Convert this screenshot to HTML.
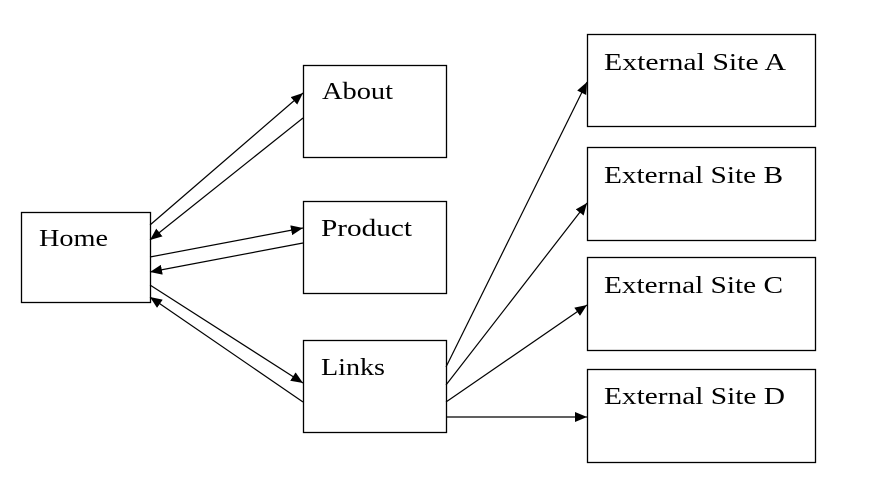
<!DOCTYPE html>
<html><head><style>
html,body{margin:0;padding:0;background:#fff;}
svg{display:block;}
text{font-family:"Liberation Serif",serif;font-size:24px;fill:#000;}
</style></head><body>
<svg width="870" height="486" viewBox="0 0 870 486">
<defs><marker id="a" markerWidth="12" markerHeight="10" refX="12" refY="5" orient="auto" markerUnits="userSpaceOnUse"><path d="M0,0 L12,5 L0,10 z" fill="#000"/></marker></defs>
<g fill="none" stroke="#000" stroke-width="1.3">
<rect x="21.5" y="212.5" width="129" height="90"/>
<rect x="303.5" y="65.5" width="143" height="92"/>
<rect x="303.5" y="201.5" width="143" height="92"/>
<rect x="303.5" y="340.5" width="143" height="92"/>
<rect x="587.5" y="34.5" width="228" height="92"/>
<rect x="587.5" y="147.5" width="228" height="93"/>
<rect x="587.5" y="257.5" width="228" height="93"/>
<rect x="587.5" y="369.5" width="228" height="93"/>
</g>
<g stroke="#000" stroke-width="1.2" marker-end="url(#a)">
<line x1="150" y1="225" x2="303" y2="93"/>
<line x1="303" y1="118" x2="150" y2="240"/>
<line x1="150" y1="257" x2="303" y2="228"/>
<line x1="303" y1="243" x2="150" y2="272"/>
<line x1="150" y1="285" x2="303" y2="383"/>
<line x1="303" y1="402" x2="150" y2="297"/>
<line x1="446" y1="367" x2="587" y2="82"/>
<line x1="446" y1="385" x2="587" y2="203"/>
<line x1="446" y1="402" x2="587" y2="305"/>
<line x1="446" y1="417" x2="587" y2="417"/>
</g>
<text x="39" y="246" textLength="69" lengthAdjust="spacingAndGlyphs">Home</text>
<text x="322" y="99" textLength="71" lengthAdjust="spacingAndGlyphs">About</text>
<text x="321" y="236" textLength="91" lengthAdjust="spacingAndGlyphs">Product</text>
<text x="321" y="375" textLength="64" lengthAdjust="spacingAndGlyphs">Links</text>
<text x="604" y="70" textLength="182" lengthAdjust="spacingAndGlyphs">External Site A</text>
<text x="604" y="183" textLength="179" lengthAdjust="spacingAndGlyphs">External Site B</text>
<text x="604" y="293" textLength="179" lengthAdjust="spacingAndGlyphs">External Site C</text>
<text x="604" y="404" textLength="181" lengthAdjust="spacingAndGlyphs">External Site D</text>
</svg>
</body></html>
